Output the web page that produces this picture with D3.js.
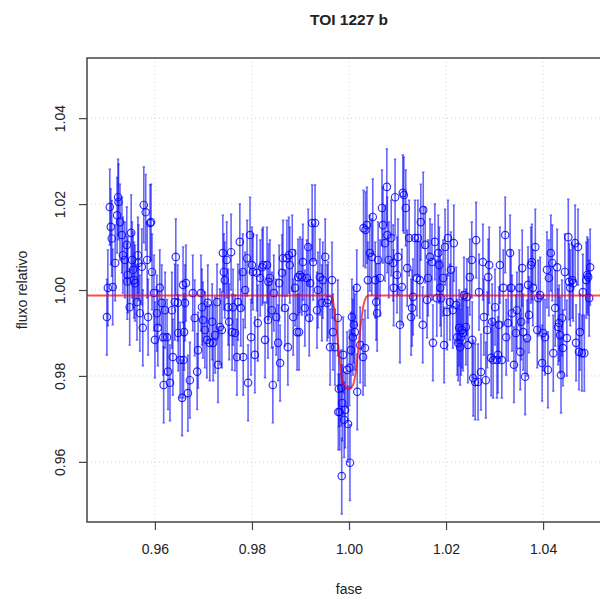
<!DOCTYPE html>
<html>
<head>
<meta charset="utf-8">
<script src="https://cdn.jsdelivr.net/npm/d3@7"></script>
<style>
  body { margin: 0; background: #fff; }
  text { font-family: "Liberation Sans", Arial, sans-serif; fill: #222; }
</style>
</head>
<body>
<div id="chart"></div>
<script>
const phase = [
  0.9501,0.9503,0.9507,0.9509,0.9511,0.9513,0.9518,0.9522,0.9524,0.9525,0.9528,0.9532,0.9534,0.9538,0.9542,0.9543,0.9544,0.9548,0.9551,0.9553,
  0.9555,0.9557,0.9559,0.9563,0.9565,0.9566,0.9569,0.9573,0.9575,0.9577,0.9581,0.9584,0.9586,0.9590,0.9592,0.9594,0.9598,0.9600,0.9604,0.9606,
  0.9610,0.9614,0.9617,0.9618,0.9621,0.9625,0.9627,0.9631,0.9635,0.9637,0.9641,0.9643,0.9647,0.9648,0.9652,0.9656,0.9658,
  0.9659,0.9660,0.9662,0.9664,0.9668,0.9672,0.9678,0.9682,0.9687,0.9689,0.9695,0.9697,0.9699,0.9703,0.9707,0.9709,0.9713,0.9718,0.9720,0.9724,
  0.9728,0.9730,0.9734,0.9738,0.9740,0.9742,0.9744,0.9748,0.9751,0.9753,0.9757,0.9759,0.9761,0.9765,0.9769,0.9771,0.9775,0.9777,0.9781,0.9782,
  0.9786,0.9790,0.9792,0.9796,0.9798,0.9800,0.9802,0.9806,0.9810,0.9812,0.9817,0.9821,0.9823,0.9827,
  0.9831,0.9833,0.9834,0.9837,0.9841,0.9843,0.9845,0.9850,0.9854,0.9856,0.9858,0.9862,0.9864,0.9868,0.9872,0.9874,0.9876,0.9878,0.9883,0.9885,
  0.9889,0.9893,0.9895,0.9897,0.9899,0.9903,0.9905,0.9909,0.9913,0.9916,0.9918,0.9920,0.9924,0.9926,0.9930,0.9934,0.9936,0.9940,0.9944,0.9946,
  0.9951,0.9955,0.9957,0.9961,0.9965,0.9967,0.9971,0.9977,0.9978,0.9979,0.9981,0.9984,0.9986,0.9985,0.9988,0.9990,0.9992,0.9996,0.9998,1.0002,
  1.0004,1.0006,
  1.0001,1.0008,1.0010,1.0012,1.0016,1.0017,1.0023,1.0029,1.0030,1.0033,1.0034,1.0037,1.0039,1.0043,1.0047,1.0049,1.0054,1.0056,1.0058,1.0060,
  1.0064,1.0068,1.0070,1.0074,1.0078,1.0079,1.0082,1.0087,1.0091,1.0092,1.0095,1.0099,1.0101,1.0105,1.0109,1.0111,1.0113,1.0117,1.0120,1.0124,
  1.0128,1.0130,1.0132,1.0136,1.0140,1.0142,1.0146,1.0148,1.0153,1.0152,1.0157,1.0161,1.0163,1.0167,1.0171,1.0173,1.0177,1.0181,1.0184,
  1.0186,1.0188,1.0190,1.0194,1.0196,1.0198,1.0202,1.0204,1.0208,1.0210,1.0214,1.0216,1.0221,1.0223,1.0225,1.0227,1.0229,1.0231,1.0233,1.0235,
  1.0237,1.0241,1.0243,1.0245,1.0249,1.0254,1.0253,1.0256,1.0260,1.0262,1.0266,1.0268,1.0272,1.0276,1.0278,1.0282,1.0285,1.0287,1.0289,1.0293,
  1.0295,1.0297,1.0301,1.0305,1.0307,1.0309,1.0311,1.0315,1.0318,1.0322,1.0324,1.0328,1.0332,1.0334,1.0336,1.0340,1.0344,
  1.0346,1.0351,1.0353,1.0355,1.0357,1.0359,1.0363,1.0367,1.0369,1.0371,1.0375,1.0377,1.0379,1.0384,1.0388,1.0390,1.0394,1.0398,1.0400,1.0404,
  1.0408,1.0410,1.0412,1.0416,1.0419,1.0421,1.0425,1.0429,1.0431,1.0433,1.0435,1.0437,1.0439,1.0441,1.0445,1.0449,1.0452,1.0454,1.0456,1.0460,
  1.0462,1.0466,1.0468,1.0472,1.0474,1.0476,1.0480,1.0482,1.0485,1.0489,1.0491,1.0493,1.0495,1.0497
];

// relative flux for each phase above
const flux = [
  0.9937,1.0005,1.0193,1.0147,1.0120,1.0007,1.0063,1.0174,1.0216,1.0205,1.0158,1.0128,1.0081,1.0070,1.0105,1.0020,1.0035,0.9960,1.0133,1.0070,
  1.0047,1.0023,1.0016,0.9972,1.0081,1.0063,0.9946,1.0054,0.9912,1.0198,1.0181,1.0070,0.9937,1.0156,1.0158,1.0042,0.9993,0.9884,0.9946,0.9912,
  1.0005,0.9970,0.9890,0.9779,0.9953,0.9890,0.9810,0.9784,0.9953,0.9844,0.9972,1.0077,0.9970,0.9900,0.9837,0.9749,1.0012,
  0.9837,0.9902,0.9970,1.0016,0.9760,0.9790,0.9993,0.9935,0.9810,0.9860,0.9993,0.9960,0.9930,0.9907,0.9884,0.9970,0.9877,0.9926,0.9877,0.9895,
  0.9972,0.9826,0.9914,0.9907,1.0086,1.0042,1.0023,1.0070,0.9960,0.9926,1.0088,0.9902,0.9960,0.9900,0.9844,0.9972,1.0112,0.9958,1.0042,0.9844,
  1.0000,1.0074,0.9784,1.0128,0.9890,1.0058,1.0042,0.9849,1.0040,0.9923,1.0028,1.0053,1.0058,0.9884,
  1.0058,0.9930,1.0019,1.0028,0.9953,0.9779,0.9993,0.9937,0.9877,1.0016,0.9830,1.0040,1.0074,0.9958,1.0074,0.9867,1.0081,1.0058,1.0086,0.9937,
  1.0005,0.9902,1.0030,0.9902,1.0035,1.0030,1.0065,0.9958,1.0028,1.0100,0.9935,1.0016,1.0156,1.0065,1.0156,0.9953,1.0000,1.0030,0.9970,1.0023,
  1.0077,0.9970,0.9977,0.9867,1.0023,0.9902,0.9867,0.9935,0.9716,0.9770,0.9716,0.9772,0.9737,0.9567,0.9849,0.9698,0.9721,0.9814,0.9688,0.9598,
  0.9860,0.9937,
  0.9819,0.9890,0.9919,0.9902,1.0005,0.9763,0.9872,0.9844,1.0144,0.9865,1.0140,1.0151,1.0023,1.0086,1.0077,1.0170,1.0023,0.9972,0.9946,1.0070,
  1.0028,1.0191,1.0151,1.0109,1.0240,1.0128,1.0070,1.0121,1.0063,1.0005,1.0216,1.0035,1.0077,0.9919,1.0007,1.0226,1.0221,1.0191,1.0051,1.0121,
  0.9937,0.9958,0.9984,1.0121,1.0028,1.0121,1.0023,1.0158,1.0186,0.9919,1.0105,0.9977,1.0028,1.0077,1.0065,0.9877,1.0112,0.9981,1.0086,
  1.0058,1.0005,0.9981,1.0028,0.9872,1.0100,0.9949,1.0121,0.9972,1.0047,0.9953,1.0109,0.9965,0.9890,0.9877,0.9912,0.9867,0.9890,0.9907,0.9900,
  0.9988,0.9914,0.9984,0.9872,1.0030,0.9884,1.0070,0.9795,0.9786,1.0116,0.9786,0.9995,0.9809,1.0065,0.9937,0.9790,0.9907,1.0030,1.0058,0.9842,
  0.9926,0.9837,0.9960,0.9837,0.9849,0.9919,1.0058,0.9837,1.0005,1.0128,0.9890,0.9923,1.0086,1.0005,0.9946,0.9826,0.9900,
  0.9953,1.0005,0.9856,0.9926,1.0051,0.9902,0.9798,0.9888,1.0012,0.9942,1.0058,1.0065,1.0005,1.0100,0.9907,0.9981,0.9988,0.9830,0.9900,0.9890,
  1.0047,0.9814,1.0028,1.0086,1.0063,0.9853,0.9958,1.0053,0.9914,0.9923,0.9895,0.9802,0.9935,0.9865,1.0042,0.9888,1.0123,1.0019,1.0005,1.0023,
  1.0016,1.0109,0.9877,1.0100,0.9856,0.9902,0.9853,0.9995,0.9853,1.0023,1.0035,1.0030,0.9981,1.0053
];

const fluxErr = 0.0088;

// transit model curve (red)
const modelPhase = [0.946, 0.9963, 0.9966, 0.9969, 0.9973, 0.9977, 0.9981, 0.9985, 0.9990, 0.9995, 1.0000,
  1.0005, 1.0010, 1.0014, 1.0018, 1.0022, 1.0026, 1.0030, 1.0034, 1.0038, 1.0042, 1.054];
const modelFlux = [0.9987, 0.9987, 0.9980, 0.9960, 0.9925, 0.9880, 0.9830, 0.9795, 0.9778, 0.9771, 0.9770,
  0.9773, 0.9785, 0.9810, 0.9850, 0.9895, 0.9935, 0.9965, 0.9980, 0.9986, 0.9987, 0.9987];

const xTicks = [0.96, 0.98, 1.00, 1.02, 1.04];
const yTicks = [0.96, 0.98, 1.00, 1.02, 1.04];

const width = 600, height = 601;
const margin = {top: 58, right: -11, bottom: 79, left: 87};

const svg = d3.select("#chart").append("svg")
  .attr("width", width)
  .attr("height", height);

const x = d3.scaleLinear()
  .domain([0.946, 1.054])
  .range([margin.left, width - margin.right]);

const y = d3.scaleLinear()
  .domain([0.946, 1.054])
  .range([height - margin.bottom, margin.top]);

const points = phase.map(function(p, i) { return {phase: p, flux: flux[i]}; });

// grid
svg.append("g").selectAll("line")
  .data(xTicks).enter().append("line")
    .attr("x1", d => x(d)).attr("x2", d => x(d))
    .attr("y1", y.range()[1]).attr("y2", y.range()[0])
    .attr("stroke", "#d3d3d3").attr("stroke-dasharray", "1,3");
svg.append("g").selectAll("line")
  .data(yTicks).enter().append("line")
    .attr("y1", d => y(d)).attr("y2", d => y(d))
    .attr("x1", x.range()[0]).attr("x2", x.range()[1])
    .attr("stroke", "#d3d3d3").attr("stroke-dasharray", "1,3");

// error bars
const bars = svg.append("g")
  .attr("stroke", "rgba(0,0,255,0.6)")
  .attr("stroke-width", 1.6);
bars.selectAll("path")
  .data(points).enter().append("path")
    .attr("d", function(d) {
      const cx = x(d.phase), y0 = y(d.flux - fluxErr), y1 = y(d.flux + fluxErr);
      return "M" + cx + "," + y0 + "V" + y1 +
        "M" + (cx - 1.2) + "," + y0 + "H" + (cx + 1.2) +
        "M" + (cx - 1.2) + "," + y1 + "H" + (cx + 1.2);
    })
    .attr("fill", "none");

// points
svg.append("g").selectAll("circle")
  .data(points).enter().append("circle")
    .attr("cx", d => x(d.phase))
    .attr("cy", d => y(d.flux))
    .attr("r", 3.7)
    .attr("fill", "none")
    .attr("stroke", "rgba(0,0,255,0.8)")
    .attr("stroke-width", 1.2);

// model
const line = d3.line()
  .x(function(d, i) { return x(modelPhase[i]); })
  .y(function(d) { return y(d); })
  .curve(d3.curveMonotoneX);
svg.append("path")
  .datum(modelFlux)
  .attr("d", line)
  .attr("fill", "none")
  .attr("stroke", "rgba(255,0,0,0.7)")
  .attr("stroke-width", 2);

// axes
const xAxis = svg.append("g")
  .attr("transform", "translate(0," + y.range()[0] + ")")
  .call(d3.axisBottom(x).tickValues(xTicks).tickFormat(d3.format(".2f")).tickSize(8).tickPadding(14));
const yAxis = svg.append("g")
  .attr("transform", "translate(" + x.range()[0] + ",0)")
  .call(d3.axisLeft(y).tickValues(yTicks).tickFormat(d3.format(".2f")).tickSize(8));

[xAxis, yAxis].forEach(function(a) {
  a.select(".domain").remove();
  a.selectAll(".tick line").attr("stroke", "#444").attr("stroke-width", 1.2);
  a.selectAll("text").style("font-size", "14px").attr("fill", "#222");
});
yAxis.selectAll(".tick text")
  .attr("transform", "rotate(-90)")
  .attr("x", 0).attr("y", -22).attr("dy", 0)
  .attr("text-anchor", "middle");

// box
svg.append("rect")
  .attr("x", x.range()[0]).attr("y", y.range()[1])
  .attr("width", x.range()[1] - x.range()[0])
  .attr("height", y.range()[0] - y.range()[1])
  .attr("fill", "none").attr("stroke", "#444").attr("stroke-width", 1.5);

// titles
const cxMid = (x.range()[0] + x.range()[1]) / 2;
svg.append("text")
  .attr("x", cxMid).attr("y", 25)
  .attr("text-anchor", "middle")
  .style("font-size", "15.5px").style("font-weight", "bold")
  .text("TOI 1227 b");
svg.append("text")
  .attr("x", cxMid).attr("y", 594)
  .attr("text-anchor", "middle")
  .style("font-size", "14px")
  .text("fase");
svg.append("text")
  .attr("transform", "translate(27," + y(1.0) + ") rotate(-90)")
  .attr("text-anchor", "middle")
  .style("font-size", "14px")
  .text("fluxo relativo");
</script>
</body>
</html>
